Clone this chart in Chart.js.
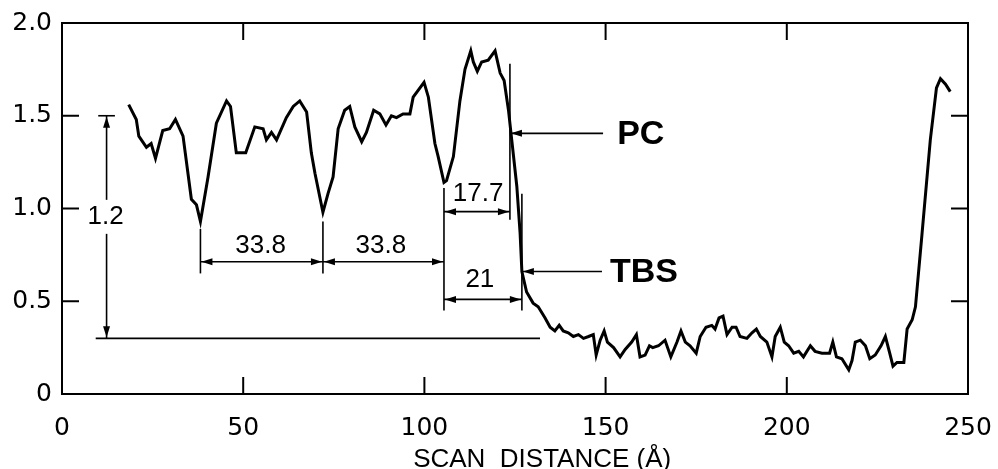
<!DOCTYPE html>
<html>
<head>
<meta charset="utf-8">
<script src="https://cdn.jsdelivr.net/npm/chart.js@4.4.1/dist/chart.umd.min.js"></script>
<style>
  html, body { margin: 0; padding: 0; background: #fff; }
  #wrap { width: 998px; height: 469px; }
</style>
</head>
<body>
<div id="wrap"><canvas id="c" width="998" height="469"></canvas></div>
<script>
// ── DATA ──────────────────────────────────────────────────────────────────
// scan trace (x in Å, y in arbitrary units)
const scanX = [
  18.4, 20.5, 21.2, 23.3, 24.6, 25.8, 27.8, 29.7, 31.3, 33.4, 35.7, 37.1, 38.2, 40.3, 42.6,
  45.4, 46.5, 48.1, 50.7, 53.2, 55.5, 56.4, 57.8, 59.2, 61.9, 63.8, 65.6, 67.5, 68.8, 69.8,
  72.0, 73.4, 74.8, 76.2, 78.0, 79.4, 80.8, 82.7, 84.0, 86.0, 87.7, 89.4, 90.9, 92.3, 94.1,
  96.0, 96.9, 99.9, 101.1, 102.9, 103.8, 105.4, 106.1, 108.0, 109.8, 111.2, 112.8, 113.5,
  114.6, 115.8, 117.6, 119.5, 120.9, 122.0, 123.2, 124.1, 125.5, 126.4, 126.9, 128.2, 130.0,
  131.4, 133.3, 134.7, 136.0, 137.2, 138.3, 139.7, 141.1, 142.5, 143.9, 145.3, 146.6, 147.4,
  148.5, 149.6, 150.5, 152.2, 154.0, 155.4, 157.2, 158.5, 159.5, 160.9, 162.1, 163.0, 164.6,
  166.4, 168.0, 169.7, 170.8, 172.0, 173.3, 175.0, 176.1, 177.7, 179.3, 180.2, 181.3, 182.4,
  183.5, 184.9, 186.0, 187.1, 189.0, 190.4, 191.6, 192.7, 194.5, 195.9, 196.8, 198.2, 199.3,
  200.5, 201.9, 203.3, 204.6, 206.5, 207.8, 209.7, 211.8, 212.7, 213.7, 215.2, 217.1, 218.0,
  218.9, 220.3, 221.7, 222.9, 224.4, 226.0, 227.2, 228.4, 229.3, 230.4, 232.3, 233.2, 234.6,
  235.5, 237.3, 239.6, 241.3, 242.4, 243.8, 245.1
];
const scanY = [
  1.56, 1.48, 1.39, 1.33, 1.35, 1.27, 1.42, 1.43, 1.48, 1.39, 1.05, 1.02, 0.93, 1.17, 1.46,
  1.58, 1.55, 1.30, 1.30, 1.44, 1.43, 1.37, 1.41, 1.37, 1.49, 1.55, 1.58, 1.52, 1.30, 1.19,
  0.98, 1.08, 1.17, 1.43, 1.53, 1.55, 1.44, 1.36, 1.41, 1.53, 1.51, 1.45, 1.50, 1.49, 1.51,
  1.51, 1.60, 1.68, 1.60, 1.35, 1.28, 1.14, 1.15, 1.28, 1.58, 1.75, 1.85, 1.79,
  1.74, 1.79, 1.80, 1.85, 1.73, 1.69, 1.53, 1.37, 1.12, 0.87, 0.66, 0.55, 0.49,
  0.47, 0.41, 0.36, 0.34, 0.37, 0.34, 0.33, 0.31, 0.32, 0.30, 0.31, 0.32, 0.21,
  0.29, 0.34, 0.28, 0.25, 0.20, 0.24, 0.28, 0.32, 0.20, 0.21, 0.26, 0.25, 0.26,
  0.29, 0.20, 0.28, 0.34, 0.28, 0.26, 0.22, 0.31, 0.36, 0.37, 0.35, 0.41, 0.42,
  0.32, 0.36, 0.36, 0.31, 0.30, 0.33, 0.35, 0.31, 0.28, 0.20, 0.31, 0.36, 0.28,
  0.26, 0.22, 0.23, 0.20, 0.26, 0.23, 0.22, 0.22, 0.28, 0.20, 0.19, 0.13, 0.18,
  0.28, 0.29, 0.26, 0.19, 0.21, 0.26, 0.31, 0.22, 0.15, 0.17, 0.17, 0.35, 0.40,
  0.47, 0.86, 1.37, 1.65, 1.70, 1.67, 1.63
];
const xTicks = [0, 50, 100, 150, 200, 250];
const yTicks = [0, 0.5, 1.0, 1.5, 2.0];
const xTitle = 'SCAN  DISTANCE (Å)';

// ── ANNOTATIONS (data units) ──────────────────────────────────────────────
// height marker: x, top, bottom, label position
const heightMark = { x: 12.3, yTop: 1.5, yBot: 0.30, barHalf: 2.3, label: '1.2', ly: 0.955 };
const baseLine   = { y: 0.30, x0: 9.3, x1: 131.9 };
// extension lines: [x, yFrom, yTo]
const extLines = [
  [38.2, 0.89, 0.65],
  [72.0, 0.93, 0.65],
  [105.4, 1.11, 0.45],
  [123.6, 1.78, 0.94],
  [126.9, 1.08, 0.45],
];
// double arrows: x0, x1, y, label, label centre
const dimArrows = [
  { x0: 38.2,  x1: 72.0,  y: 0.713, label: '33.8', lx: 54.8,  ly: 0.80 },
  { x0: 72.0,  x1: 105.4, y: 0.713, label: '33.8', lx: 88.0,  ly: 0.80 },
  { x0: 105.4, x1: 123.6, y: 0.983, label: '17.7', lx: 114.8, ly: 1.08 },
  { x0: 105.4, x1: 126.9, y: 0.51,  label: '21',   lx: 115.3, ly: 0.615 },
];
// pointer arrows: tail x, tip x, y, label x
const pointers = [
  { from: 149.3, to: 123.6, y: 1.405, label: 'PC',  lx: 153.2 },
  { from: 149.0, to: 126.9, y: 0.66,  label: 'TBS', lx: 151.2 },
];

// ── DRAW HELPERS ──────────────────────────────────────────────────────────
function arrowHead(ctx, tx, ty, dx, dy) {
  const len = 11, half = 3.5;
  const bx = tx - dx * len, by = ty - dy * len;
  ctx.beginPath();
  ctx.moveTo(tx, ty);
  ctx.lineTo(bx - dy * half, by + dx * half);
  ctx.lineTo(bx + dy * half, by - dx * half);
  ctx.closePath();
  ctx.fill();
}
function line(ctx, x0, y0, x1, y1) {
  ctx.beginPath(); ctx.moveTo(x0, y0); ctx.lineTo(x1, y1); ctx.stroke();
}

const overlay = {
  id: 'overlay',
  afterDraw(chart) {
    const { ctx, chartArea: a, scales: { x, y } } = chart;
    const px = v => x.getPixelForValue(v);
    const py = v => y.getPixelForValue(v);
    ctx.save();
    ctx.strokeStyle = '#000';
    ctx.fillStyle = '#000';

    // frame + inward ticks
    ctx.lineWidth = 2;
    ctx.strokeRect(a.left, a.top, a.right - a.left, a.bottom - a.top);
    const tk = 17;
    xTicks.slice(1, -1).forEach(v => {
      line(ctx, px(v), a.bottom, px(v), a.bottom - tk);
      line(ctx, px(v), a.top, px(v), a.top + tk);
    });
    yTicks.slice(1, -1).forEach(v => {
      line(ctx, a.left, py(v), a.left + tk, py(v));
      line(ctx, a.right, py(v), a.right - tk, py(v));
    });

    // axis title
    ctx.font = '26px "Liberation Sans", Arial, sans-serif';
    ctx.textAlign = 'center';
    ctx.textBaseline = 'alphabetic';
    ctx.fillText(xTitle, a.left + (a.right - a.left) * 0.53, a.bottom + 73);

    // baseline + height marker
    ctx.lineWidth = 1.6;
    line(ctx, px(baseLine.x0), py(baseLine.y), px(baseLine.x1), py(baseLine.y));
    const hx = px(heightMark.x);
    line(ctx, hx, py(heightMark.yTop), hx, py(heightMark.yBot));
    line(ctx, px(heightMark.x - heightMark.barHalf), py(heightMark.yTop),
              px(heightMark.x + heightMark.barHalf), py(heightMark.yTop));
    arrowHead(ctx, hx, py(heightMark.yTop) + 1, 0, -1);
    arrowHead(ctx, hx, py(heightMark.yBot) - 1, 0, 1);

    // extension lines
    extLines.forEach(([ex, y0, y1]) => line(ctx, px(ex), py(y0), px(ex), py(y1)));

    // dimension arrows
    ctx.font = '26px "Liberation Sans", Arial, sans-serif';
    ctx.textBaseline = 'middle';
    dimArrows.forEach(d => {
      const x0 = px(d.x0), x1 = px(d.x1), yy = py(d.y);
      line(ctx, x0, yy, x1, yy);
      arrowHead(ctx, x0 + 1, yy, -1, 0);
      arrowHead(ctx, x1 - 1, yy, 1, 0);
      ctx.fillText(d.label, px(d.lx), py(d.ly));
    });

    // pointer arrows
    ctx.font = 'bold 34px "Liberation Sans", Arial, sans-serif';
    ctx.textAlign = 'left';
    pointers.forEach(p => {
      const yy = py(p.y);
      line(ctx, px(p.from), yy, px(p.to), yy);
      arrowHead(ctx, px(p.to) + 1, yy, -1, 0);
      ctx.fillText(p.label, px(p.lx), yy + 1);
    });

    // height label, breaking the marker line
    ctx.font = '26px "Liberation Sans", Arial, sans-serif';
    ctx.textAlign = 'center';
    const lw = ctx.measureText(heightMark.label).width;
    ctx.fillStyle = '#fff';
    ctx.fillRect(hx - lw / 2 - 2, py(heightMark.ly) - 17, lw + 4, 34);
    ctx.fillStyle = '#000';
    ctx.fillText(heightMark.label, hx - 1, py(heightMark.ly));
    ctx.restore();
  }
};

// ── CHART ─────────────────────────────────────────────────────────────────
Chart.defaults.font.family = '"DejaVu Sans", sans-serif';
Chart.defaults.color = '#000';

new Chart(document.getElementById('c'), {
  type: 'line',
  data: {
    datasets: [{
      data: scanX.map((v, i) => ({ x: v, y: scanY[i] })),
      borderColor: '#000',
      borderWidth: 3,
      pointRadius: 0,
      tension: 0,
      fill: false,
    }],
  },
  options: {
    responsive: false,
    animation: false,
    events: [],
    layout: { padding: { top: 23, right: 30, left: 0, bottom: 0 } },
    plugins: { legend: { display: false }, tooltip: { enabled: false } },
    scales: {
      x: {
        type: 'linear', min: 0, max: 250,
        afterBuildTicks: s => { s.ticks = xTicks.map(v => ({ value: v })); },
        afterFit: s => { s.height = 75; s.paddingLeft = 0; s.paddingRight = 0; },
        grid: { display: false, drawTicks: false },
        border: { display: false },
        ticks: { font: { size: 25 }, padding: 19, maxRotation: 0, callback: v => String(v) },
      },
      y: {
        type: 'linear', min: 0, max: 2,
        afterBuildTicks: s => { s.ticks = yTicks.map(v => ({ value: v })); },
        afterFit: s => { s.width = 62; s.paddingTop = 0; s.paddingBottom = 0; },
        grid: { display: false, drawTicks: false },
        border: { display: false },
        ticks: { font: { size: 25 }, padding: 10, callback: v => v === 0 ? '0' : v.toFixed(1) },
      },
    },
  },
  plugins: [overlay],
});
</script>
</body>
</html>
